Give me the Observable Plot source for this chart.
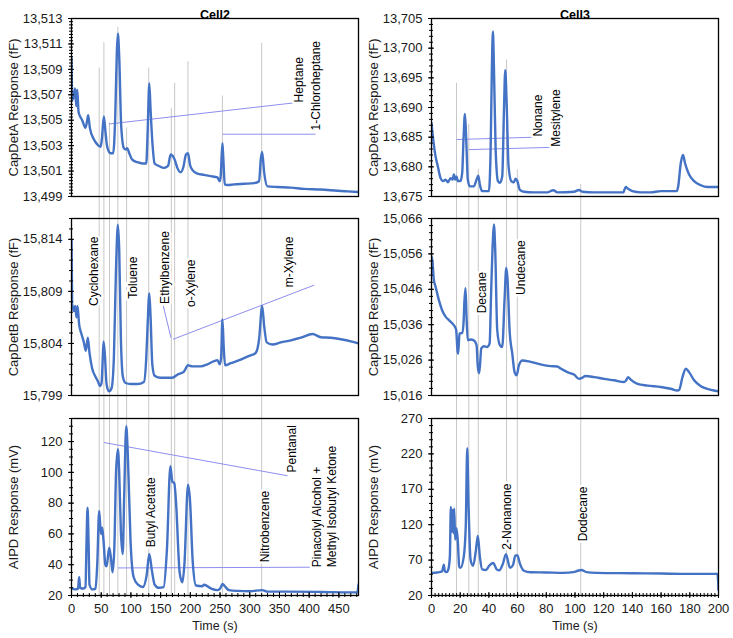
<!DOCTYPE html>
<html><head><meta charset="utf-8">
<script src="https://cdn.jsdelivr.net/npm/d3@7"></script>
<script src="https://cdn.jsdelivr.net/npm/@observablehq/plot@0.6"></script>
<style>
body{margin:0;background:#fff}
#wrap{position:relative;width:733px;height:638px;overflow:hidden;background:#fff}
</style></head><body><div id="wrap"></div>
<script>
// ---------- DATA (time s, response) ----------
const cell2CapA = [[0,13509.9],[1.5,13506.6],[4,13506.9],[6,13507.5],[8,13506.1],[9.6,13507.4],[12,13505.6],[18,13505.0],[23.6,13504.4],[26.4,13505.0],[28.1,13505.4],[30.9,13504.4],[37.6,13503.5],[43.3,13503.1],[48.9,13502.9],[51.1,13503.5],[54.5,13505.3],[57.3,13504.0],[60.1,13502.9],[65.7,13502.4],[70.2,13502.4],[73.6,13505.3],[76.4,13510.5],[78.1,13511.8],[80.3,13510.0],[83.7,13504.5],[88.2,13502.8],[91.6,13502.7],[93.8,13502.8],[97.2,13502.4],[102.2,13501.9],[110.7,13501.7],[119.1,13501.6],[125.8,13501.6],[128.1,13504.0],[130.9,13507.9],[133.1,13505.8],[136.5,13503.0],[139.9,13501.6],[147.2,13501.4],[155.6,13501.25],[162.4,13501.4],[166.9,13502.3],[170.2,13502.2],[173.6,13501.9],[178.1,13501.25],[183.7,13500.9],[188.2,13501.3],[192.7,13502.3],[196.1,13502.4],[199.4,13501.5],[203.4,13501.1],[211.8,13500.8],[223,13500.7],[234.3,13500.6],[245.5,13500.5],[249.4,13500.2],[251.1,13500.6],[254,13503.2],[255.6,13501.9],[257.9,13499.95],[262.4,13499.9],[273.6,13499.95],[290.5,13500.0],[307.3,13500.05],[315.7,13500.2],[318.5,13501.9],[320.8,13502.5],[324.2,13500.9],[329.8,13499.8],[346.6,13499.75],[369.1,13499.7],[391.6,13499.6],[419.7,13499.55],[447.8,13499.45],[464.6,13499.4],[483,13499.35]];
const cell2CapB = [[0,15813.9],[1.1,15807.8],[3.9,15807.1],[6.2,15807.6],[8.4,15806.5],[10.1,15807.6],[12.9,15805.8],[16.3,15805.0],[20.8,15804.1],[24.2,15803.3],[27.5,15804.55],[30.3,15803.1],[34.8,15801.6],[40.4,15800.8],[44.9,15800.3],[47.8,15799.9],[50.6,15800.2],[52.2,15802.0],[53.9,15804.2],[56.2,15802.9],[59,15800.1],[62.9,15799.4],[67.4,15799.7],[71.3,15802.6],[74.7,15810.7],[78.1,15815.4],[80.3,15813.0],[83.1,15804.55],[86.5,15800.8],[91,15800.2],[99.4,15800.1],[110.7,15800.1],[121.9,15800.3],[125.8,15802.6],[128.1,15805.8],[130.9,15808.8],[133.1,15806.5],[136,15802.0],[139.9,15800.9],[150,15800.7],[161.2,15800.7],[169.7,15800.7],[178.1,15801.0],[189.3,15801.3],[196.1,15801.9],[203.4,15801.8],[217.4,15801.8],[228.7,15802.0],[239.9,15802.3],[245.5,15802.4],[249.4,15802.0],[251.7,15802.6],[254,15806.3],[256.2,15803.6],[258.4,15801.9],[268,15802.1],[284.8,15802.45],[298.9,15802.8],[310.1,15803.1],[315.7,15804.4],[320.8,15807.6],[324.2,15805.7],[328.6,15804.1],[338.2,15803.9],[352.3,15804.1],[369.1,15804.3],[386,15804.55],[405.6,15804.9],[419.7,15804.6],[436.5,15804.55],[453.4,15804.4],[470.2,15804.2],[483,15804.0]];
const cell2AIPD = [[0,25],[6,24],[11,24.5],[12.9,32],[14.5,25],[20,24.5],[23.5,25.5],[25.3,55],[27,77],[28.7,55],[30.3,27],[35,24],[40.4,24.5],[43.3,40],[46.6,75],[49.5,60],[51.7,64],[54,55],[57,40],[59,39],[63.5,51],[66.5,44],[69.1,35],[72,50],[75,100],[78.1,115],[80.3,100],[83.1,62],[86.2,47],[88.7,85],[92.1,130],[94.9,110],[99.4,55],[104.5,32],[112,27],[120,25.5],[126.4,33],[130.9,47],[135.4,36],[140,27],[147,25],[155,25.5],[160.6,50],[166.4,104],[169.7,94],[173,93],[176,80],[182,35],[186.6,28.5],[190,40],[196.1,92],[199.4,82],[204,42],[209.5,26.5],[220,26],[223,27],[235,24.5],[245,23.5],[250,24.5],[254.3,27.5],[258,26],[265,23.5],[280,23],[300,22.8],[320.8,23.5],[330,22.5],[360,22.5],[420,22.3],[470,22],[481,22],[483,27]];
const cell3CapA = [[0,13687.4],[1.2,13684.6],[2.8,13681.8],[4.4,13680.1],[6.3,13678.1],[8.1,13677.6],[9.8,13677.85],[11.4,13677.4],[13.3,13678.1],[14.7,13677.85],[15.6,13678.7],[16.5,13677.85],[17.4,13678.4],[18.4,13677.6],[20.2,13677.6],[21.4,13679.0],[22.3,13684.6],[23.3,13688.9],[24.2,13684.6],[25.3,13677.85],[26.7,13676.7],[29.5,13676.7],[31.4,13677.85],[32.6,13678.5],[33.7,13677.0],[35.3,13675.9],[40,13675.9],[41.2,13682.9],[42.1,13696.9],[42.8,13702.8],[43.5,13696.9],[44.7,13682.9],[46.3,13677.6],[47.7,13677.3],[49.3,13678.4],[50.5,13689.6],[51.4,13696.3],[52.3,13691.3],[53.7,13680.1],[55.6,13677.6],[57.4,13677.4],[58.6,13678.0],[59.8,13677.6],[61.6,13676.1],[64.4,13675.8],[71.4,13675.7],[80.7,13675.7],[84.9,13676.05],[87.7,13675.7],[99.3,13675.8],[102.8,13676.1],[105.1,13675.8],[113.3,13675.7],[127.2,13675.7],[133.7,13675.7],[135.3,13676.6],[137,13676.3],[140,13675.9],[145.8,13675.7],[152.8,13675.7],[159.8,13675.9],[170.9,13675.9],[171.9,13676.7],[173.7,13680.6],[175.3,13682.0],[176.7,13680.6],[179.5,13678.7],[183,13677.6],[187.7,13676.9],[192.3,13676.6],[200,13676.6]];
const cell3CapB = [[0,15055.3],[0.7,15053.9],[1.6,15048.7],[2.8,15046.8],[5.1,15043.0],[7.4,15040.1],[9.8,15038.3],[12.1,15037.3],[14.4,15036.4],[16.3,15035.4],[17.2,15034.5],[18.1,15028.8],[18.6,15027.8],[19.5,15033.5],[21.4,15033.7],[22.3,15036.4],[23,15043.0],[23.7,15046.3],[24.4,15038.3],[25.3,15031.6],[27.2,15031.8],[29.5,15031.6],[31.4,15030.2],[32.3,15024.05],[33.3,15022.3],[34.7,15029.3],[36.5,15029.9],[38.8,15029.7],[40.5,15030.7],[41.6,15045.8],[42.8,15060.0],[43.5,15064.3],[44.4,15057.2],[45.8,15034.5],[47.7,15030.2],[49.3,15029.7],[50.9,15043.0],[52.1,15052.0],[53,15048.7],[54.4,15034.5],[56.3,15027.8],[57.9,15022.6],[59.3,15021.7],[60.9,15024.5],[63.3,15025.9],[69.1,15025.5],[76,15024.8],[83,15024.3],[87.7,15024.2],[90,15023.6],[94.7,15022.6],[99.3,15021.9],[102.8,15020.7],[104.4,15020.9],[107.4,15021.5],[113.3,15021.2],[120.2,15020.7],[127.2,15020.3],[134.2,15019.8],[135.3,15020.1],[137,15021.2],[138.8,15020.5],[143.5,15019.3],[150.5,15018.8],[159.8,15018.4],[166.7,15017.9],[171.4,15017.4],[172.6,15017.6],[174.9,15021.2],[177.2,15023.6],[179.5,15022.6],[183,15020.3],[187.7,15018.6],[194.7,15017.6],[200,15017.2]];
const cell3AIPD = [[0,51.9],[4,52.5],[7.4,54],[8.6,63.5],[9.3,54],[10.5,53],[11.6,56],[12.8,75],[13.5,145],[14.2,110],[14.7,141],[15.3,108],[15.8,143],[16.5,99],[17.4,115],[18.3,98],[19.3,61],[20.2,59],[22.5,75],[23.9,120],[24.9,228],[25.8,150],[27.2,71],[29,62],[30.9,83],[32.3,104],[33.7,75],[35.3,57],[38,56],[40.2,62],[43,66],[45.4,57],[47.2,55.5],[49.8,65],[51.9,78.5],[54.7,59],[56.8,63],[58.4,76],[59.8,77],[61.6,65],[64.4,55],[69,52.8],[80,52.5],[92,52],[99,53],[102,55],[104.4,56],[108,53],[115,52],[140,51.5],[160,51],[180,50.5],[199.3,50.5],[200,28]];

// retention-time marker lines: [time, top of line in CapDetA panel]
const cell2Markers = [[46.6,13509.1],[54.5,13511.1],[64,13504.8],[78,13512.3],[92.7,13504.4],[130,13509.1],[168,13505.9],[173.6,13507.9],[196,13509.6],[254,13506.9],[320,13511.05]];
const cell3Markers = [[17.4,13694.1],[26,13687.1],[32.6,13679.6],[52.3,13698],[59.8,13679.5],[104,13677]];

// compound labels (anchor = bottom of rotated text)
const cell2ALabels = [{name:"Heptane",t:381.6,v:13506.4},{name:"1-Chloroheptane",t:410.8,v:13504.2}];
const cell2BLabels = [{name:"Cyclohexane",t:36.5,v:15807.6},{name:"Toluene",t:102.2,v:15808.3},{name:"Ethylbenzene",t:155.6,v:15807.8},{name:"o-Xylene",t:199.4,v:15807.5},{name:"m-Xylene",t:364.6,v:15809.4}];
const cell2PLabels = [{name:"Butyl Acetate",t:131.5,v:51.3},{name:"Nitrobenzene",t:324,v:41.6},{name:"Pentanal",t:369,v:99.9},{name:"Pinacolyl Alcohol +\nMethyl Isobutyl Ketone",t:423.8,v:38.4}];
const cell3ALabels = [{name:"Nonane",t:73.7,v:13685.1},{name:"Mesitylene",t:86,v:13683.4}];
const cell3BLabels = [{name:"Decane",t:34.7,v:15039.2},{name:"Undecane",t:61.6,v:15044.4}];
const cell3PLabels = [{name:"2-Nonanone",t:52.1,v:84.7},{name:"Dodecane",t:105.1,v:96.5}];

// leader lines
const cell2ALeaders = [{x1:62.8,y1:13504.7,x2:381,y2:13506.4},{x1:253.7,y1:13503.9,x2:410.8,y2:13503.9}];
const cell2BLeaders = [{x1:154.5,y1:15807.6,x2:167.4,y2:15804.55},{x1:170.8,y1:15804.4,x2:408.4,y2:15809.6}];
const cell2PLeaders = [{x1:54.5,y1:119.4,x2:363.5,y2:97.8},{x1:78.1,y1:37.9,x2:419.7,y2:38.4}];
const cell3ALeaders = [{x1:17.4,y1:13684.6,x2:72.6,y2:13685.0},{x1:26,y1:13682.9,x2:86,y2:13683.3}];

// axis ticks
const cell2ATicks = [13499,13501,13503,13505,13507,13509,13511,13513];
const cell2BTicks = [15799,15804,15809,15814];
const cell2PTicks = [20,40,60,80,100,120];
const cell3ATicks = [13675,13680,13685,13690,13695,13700,13705];
const cell3BTicks = [15016,15026,15036,15046,15056,15066];
const cell3PTicks = [20,70,120,170,220,270];
const cell2TimeTicks = [0,50,100,150,200,250,300,350,400,450];
const cell3TimeTicks = [0,20,40,60,80,100,120,140,160,180,200];

// ---------- LAYOUT ----------
const COLS = {left:{x:0,w:366,ml:71,mr:8}, right:{x:366,w:367,ml:65,mr:15}};
const ROWS = [{top:0,h:207,mt:18,mb:11},{top:207,h:200,mt:11,mb:12},{top:407,h:231,mt:11,mb:43}];
const FONT = '"Liberation Sans", Arial, sans-serif';

function minor(domain, step){ return d3.range(domain[0], domain[1] + step*0.01, step); }

function panel(cfg){
  const col = COLS[cfg.col], row = ROWS[cfg.row];
  const [y0, y1] = cfg.yDomain, span = y1 - y0;
  const rules = cfg.markers.map(([t, top]) => ({t, a: cfg.row === 0 ? top : y1 + span, b: cfg.row === 2 ? y0 : y0 - span}));
  const marks = [
    Plot.ruleX(rules, {x:"t", y1:"a", y2:"b", stroke:"#c8c8c8", strokeWidth:1}),
    Plot.link(cfg.leaders || [], {x1:"x1", y1:"y1", x2:"x2", y2:"y2", stroke:"#8e8ef0", strokeWidth:1}),
    Plot.line(cfg.data, {x:d=>d[0], y:d=>d[1], stroke:"#4472C4", strokeWidth:2.4, curve:"monotone-x", clip:true}),
    Plot.text(cfg.labels, {x:"t", y:"v", text:"name", rotate:-90, textAnchor:"start", fontSize:12, lineHeight:1.27, fill:"#000", stroke:"white", strokeWidth:5}),
    Plot.frame({stroke:"#000", strokeWidth:1.3}),
    Plot.axisY({ticks: minor(cfg.yDomain, cfg.yMinor), tickSize:4, dx:2, tickFormat:()=>"", label:null, stroke:"#000"}),
    Plot.axisY({ticks: cfg.yTicks, tickSize:6, dx:3, tickFormat:()=>"", label:null, stroke:"#000"}),
    Plot.axisY({ticks: cfg.yTicks, tickSize:0, tickPadding:9, tickFormat:d3.format(","), label:null, fontSize:13, fill:"#1a1a1a"}),
    Plot.text([cfg.yLabel], {frameAnchor:"left", dx:-58, rotate:-90, textAnchor:"middle", fontSize:13, fill:"#1a1a1a"})
  ];
  if (cfg.title) marks.push(Plot.text([cfg.title], {frameAnchor:"top", dy:-8, textAnchor:"middle", fontSize:12.5, fontWeight:"bold", fill:"#000"}));
  if (cfg.row === 2) {
    marks.push(
      Plot.axisX({ticks: minor(cfg.xDomain, cfg.xMinor), tickSize:4, dy:-2, tickFormat:()=>"", label:null, stroke:"#000"}),
      Plot.axisX({ticks: cfg.xTicks, tickSize:6, dy:-3, tickFormat:()=>"", label:null, stroke:"#000"}),
      Plot.axisX({ticks: cfg.xTicks, tickSize:0, tickPadding:8, label:null, fontSize:13, fill:"#1a1a1a"}),
      Plot.text(["Time (s)"], {frameAnchor:"bottom", dy:34, textAnchor:"middle", fontSize:12.5, fill:"#1a1a1a"})
    );
  }
  const svg = Plot.plot({
    width: col.w, height: row.h,
    marginLeft: col.ml, marginRight: col.mr, marginTop: row.mt, marginBottom: row.mb,
    x: cfg.row === 2 ? {domain: cfg.xDomain} : {domain: cfg.xDomain, axis: null},
    y: {domain: cfg.yDomain},
    style: {fontFamily: FONT, fontSize: "13px", color: "#000", background: "white", overflow: "hidden", position: "absolute", left: col.x + "px", top: row.top + "px"},
    marks
  });
  document.getElementById("wrap").appendChild(svg);
}

const X2 = [0, 483], X3 = [0, 200];
panel({col:"left", row:0, data:cell2CapA, xDomain:X2, yDomain:[13499,13513], yTicks:cell2ATicks, yMinor:0.25, markers:cell2Markers, labels:cell2ALabels, leaders:cell2ALeaders, yLabel:"CapDetA Response (fF)", title:"Cell2"});
panel({col:"left", row:1, data:cell2CapB, xDomain:X2, yDomain:[15799,15816], yTicks:cell2BTicks, yMinor:1, markers:cell2Markers, labels:cell2BLabels, leaders:cell2BLeaders, yLabel:"CapDetB Response (fF)"});
panel({col:"left", row:2, data:cell2AIPD, xDomain:X2, yDomain:[20,135], yTicks:cell2PTicks, yMinor:5, markers:cell2Markers, labels:cell2PLabels, leaders:cell2PLeaders, yLabel:"AIPD Response (mV)", xTicks:cell2TimeTicks, xMinor:10});
panel({col:"right", row:0, data:cell3CapA, xDomain:X3, yDomain:[13675,13705], yTicks:cell3ATicks, yMinor:1, markers:cell3Markers, labels:cell3ALabels, leaders:cell3ALeaders, yLabel:"CapDetA Response (fF)", title:"Cell3"});
panel({col:"right", row:1, data:cell3CapB, xDomain:X3, yDomain:[15016,15066], yTicks:cell3BTicks, yMinor:2, markers:cell3Markers, labels:cell3BLabels, leaders:[], yLabel:"CapDetB Response (fF)"});
panel({col:"right", row:2, data:cell3AIPD, xDomain:X3, yDomain:[20,270], yTicks:cell3PTicks, yMinor:10, markers:cell3Markers, labels:cell3PLabels, leaders:[], yLabel:"AIPD Response (mV)", xTicks:cell3TimeTicks, xMinor:2.5});
</script></body></html>
